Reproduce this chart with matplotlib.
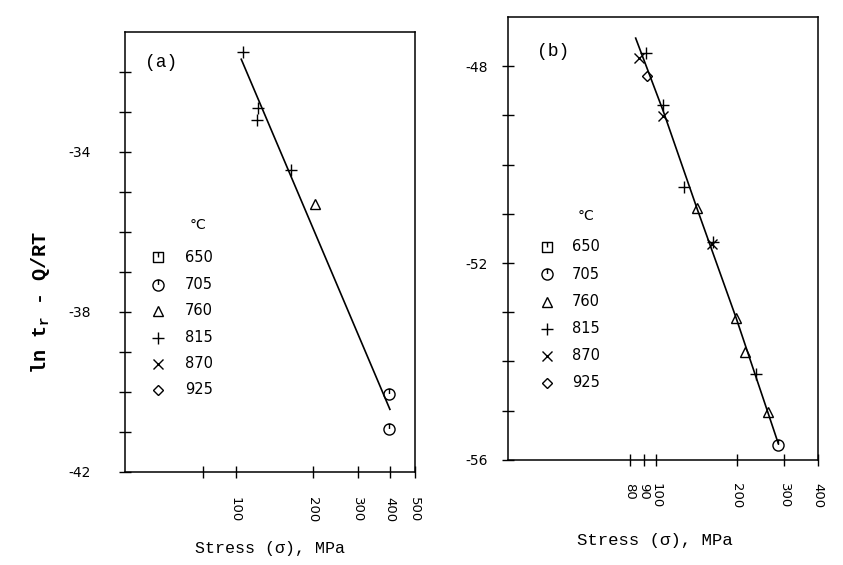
import numpy as np
import matplotlib
matplotlib.use("Agg")
import matplotlib.pyplot as plt
from matplotlib.path import Path
from matplotlib.ticker import FixedLocator, FixedFormatter, NullLocator

# ---- data ----
temps = ["650", "705", "760", "815", "870", "925"]

# panel (a)
a_815_stress = [107, 122, 121, 165]
a_815_y = [-31.5, -32.9, -33.2, -34.45]
a_760_stress = [205]
a_760_y = [-35.3]
a_705_stress = [397, 397]
a_705_y = [-40.05, -40.93]
a_fit_stress = [105.3, 400]
a_fit_y = [-31.69, -40.44]

# panel (b)
b_870_stress = [86.4, 106.2, 161]
b_870_y = [-47.83, -49.02, -51.61]
b_815_stress = [92.1, 106.2, 127.2, 162.8, 235.5]
b_815_y = [-47.73, -48.79, -50.45, -51.58, -54.26]
b_925_stress = [92.9]
b_925_y = [-48.19]
b_760_stress = [141.9, 198.9, 214.8, 260.4]
b_760_y = [-50.88, -53.12, -53.81, -55.02]
b_705_stress = [285]
b_705_y = [-55.69]
b_fit_stress = [84, 106.2, 141.9, 198.9, 260.4, 285]
b_fit_y = [-47.43, -48.9, -50.88, -53.12, -55.02, -55.66]

a_xticks = [75, 100, 200, 300, 400, 500]
a_xlabels = ["", "100", "200", "300", "400", "500"]
b_xticks = [80, 90, 100, 200, 300, 400]
b_xlabels = ["80", "90", "100", "200", "300", "400"]
a_yticks = list(range(-42, -31))
a_ylabels = ["-42", "", "", "", "-38", "", "", "", "-34", "", ""]
b_yticks = list(range(-56, -47))
b_ylabels = ["-56", "", "", "", "-52", "", "", "", "-48"]

MONO = "Liberation Mono"
SANS = "DejaVu Sans"

# custom markers: square / circle with a small tick from the top
sq = Path([(-1, -1), (1, -1), (1, 1), (-1, 1), (-1, -1)],
          [Path.MOVETO, Path.LINETO, Path.LINETO, Path.LINETO, Path.CLOSEPOLY])
tick = Path([(0, 1), (0, 0.1)], [Path.MOVETO, Path.LINETO])
m650 = Path.make_compound_path(sq, tick)
m705 = Path.make_compound_path(Path.unit_circle(), tick)
markers = {"650": m650, "705": m705, "760": "^", "815": "+", "870": "x", "925": "D"}
msizes = {"650": 7, "705": 8, "760": 7, "815": 8, "870": 7, "925": 5}


def mark(ax, xs, ys, t, **kw):
    ax.plot(xs, ys, linestyle="none", marker=markers[t], markersize=msizes[t],
            markerfacecolor="none", markeredgecolor="black", markeredgewidth=1.0,
            color="black", **kw)


def style_axes(ax, xticks, xlabels, yticks, ylabels, xpad, ypad):
    ax.set_xscale("log")
    ax.xaxis.set_major_locator(FixedLocator(xticks))
    ax.xaxis.set_major_formatter(FixedFormatter(xlabels))
    ax.xaxis.set_minor_locator(NullLocator())
    ax.yaxis.set_major_locator(FixedLocator(yticks))
    ax.yaxis.set_major_formatter(FixedFormatter(ylabels))
    ax.tick_params(axis="both", direction="inout", length=9, width=1.0)
    ax.tick_params(axis="x", pad=xpad, labelsize=9.5, labelrotation=270)
    ax.tick_params(axis="y", pad=ypad, labelsize=10)
    for lab in ax.get_xticklabels() + ax.get_yticklabels():
        lab.set_fontfamily(SANS)
    for sp in ax.spines.values():
        sp.set_linewidth(1.1)


def legend(ax, mx, tx, rows, head_xy):
    ax.text(head_xy[0], head_xy[1], "°C", transform=ax.transAxes, ha="center",
            va="center", fontsize=10, family=SANS)
    for t, ry in zip(temps, rows):
        mark(ax, [mx], [ry], t, transform=ax.transAxes, clip_on=False)
        ax.text(tx, ry, t, transform=ax.transAxes, ha="left", va="center",
                fontsize=10.5, family=SANS)


fig = plt.figure(figsize=(8.43, 5.65), dpi=100)

# ---- panel (a) ----
ax1 = fig.add_axes([0.148, 0.165, 0.344, 0.779])
ax1.plot(a_fit_stress, a_fit_y, color="black", linewidth=1.2)
mark(ax1, a_815_stress, a_815_y, "815")
mark(ax1, a_760_stress, a_760_y, "760")
mark(ax1, a_705_stress, a_705_y, "705")
ax1.set_xlim(37, 500)
ax1.set_ylim(-42, -31)
style_axes(ax1, a_xticks, a_xlabels, a_yticks, a_ylabels, xpad=14, ypad=20)
ax1.text(0.127, 0.929, "(a)", transform=ax1.transAxes, ha="center", va="center",
         fontsize=13, family=MONO)
legend(ax1, 0.114, 0.207, [0.487, 0.425, 0.366, 0.305, 0.245, 0.186], (0.252, 0.561))

# ---- panel (b) ----
ax2 = fig.add_axes([0.603, 0.186, 0.367, 0.784])
ax2.plot(b_fit_stress, b_fit_y, color="black", linewidth=1.2)
mark(ax2, b_870_stress, b_870_y, "870")
mark(ax2, b_815_stress, b_815_y, "815")
mark(ax2, b_925_stress, b_925_y, "925")
mark(ax2, b_760_stress, b_760_y, "760")
mark(ax2, b_705_stress, b_705_y, "705")
ax2.set_xlim(28.2, 400)
ax2.set_ylim(-56, -47)
style_axes(ax2, b_xticks, b_xlabels, b_yticks, b_ylabels, xpad=12, ypad=10)
ax2.text(0.146, 0.922, "(b)", transform=ax2.transAxes, ha="center", va="center",
         fontsize=13, family=MONO)
legend(ax2, 0.125, 0.205, [0.481, 0.419, 0.357, 0.296, 0.235, 0.174], (0.252, 0.551))

# ---- axis titles ----
fig.text(0.048, 0.465, r"ln t$_\mathregular{r}$ - Q/RT", rotation=90, ha="center",
         va="center", fontsize=14.5, family=MONO, fontweight="bold")
fig.text(0.32, 0.03, "Stress (σ), MPa", ha="center", va="center", fontsize=12,
         family=MONO)
fig.text(0.777, 0.044, "Stress (σ), MPa", ha="center", va="center", fontsize=12.5,
         family=MONO)

fig.savefig("out.png", dpi=100)
